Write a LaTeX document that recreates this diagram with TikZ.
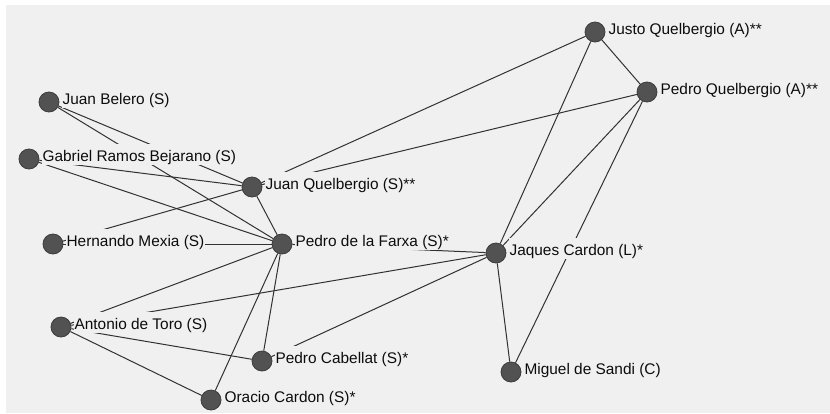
\documentclass[tikz,border=0pt]{standalone}
\usepackage{fontspec}
\setmainfont{Liberation Sans}
\usetikzlibrary{positioning}
\definecolor{canvas}{RGB}{240,240,240}
\definecolor{dotfill}{RGB}{82,82,82}
\definecolor{dotdraw}{RGB}{60,60,60}
\definecolor{linkgray}{RGB}{50,50,50}
\definecolor{ink}{RGB}{12,12,12}
\newcommand{\NameFont}{\fontsize{15.4}{18}\selectfont}
\tikzset{
  actor/.style={circle, minimum size=20pt, inner sep=0pt, fill=dotfill, draw=dotdraw, line width=0.8pt},
  tag/.style={anchor=base west, fill=canvas, inner xsep=1pt, inner ysep=4pt, text height=13pt, text depth=0pt, font=\NameFont, text=ink},
  link/.style={draw=linkgray, line width=1pt}
}

\begin{document}
\begin{tikzpicture}[x=1pt, y=-1pt]
  \useasboundingbox (0,0) rectangle (830,413);
  \fill[canvas] (6,5) rectangle (830,413);
  % people
  \node[actor] (jb) at (49,102) {};
  \node[actor] (grb) at (29,159) {};
  \node[actor] (jq) at (252,187) {};
  \node[actor] (hm) at (53,244) {};
  \node[actor] (pf) at (282,244) {};
  \node[actor] (jc) at (496,253) {};
  \node[actor] (at) at (61,327) {};
  \node[actor] (pc) at (262,361) {};
  \node[actor] (oc) at (211,400) {};
  \node[actor] (ms) at (511,372) {};
  \node[actor] (juq) at (595,32) {};
  \node[actor] (pq) at (647,92) {};
  % ties
  \draw[link] (jb) -- (jq); \draw[link] (jb) -- (pf);
  \draw[link] (grb) -- (jq); \draw[link] (grb) -- (pf);
  \draw[link] (hm) -- (jq); \draw[link] (hm) -- (pf);
  \draw[link] (jq) -- (pf); \draw[link] (jq) -- (juq); \draw[link] (jq) -- (pq);
  \draw[link] (juq) -- (pq); \draw[link] (juq) -- (jc);
  \draw[link] (pq) -- (jc); \draw[link] (pq) -- (ms);
  \draw[link] (jc) -- (ms); \draw[link] (pf) -- (jc);
  \draw[link] (at) -- (jc); \draw[link] (pc) -- (jc);
  \draw[link] (pf) -- (at); \draw[link] (pf) -- (pc); \draw[link] (pf) -- (oc);
  \draw[link] (at) -- (pc); \draw[link] (at) -- (oc);
  % names
  \node[tag] (jb-t) at ([shift={(2,2)}]jb.east) {Juan Belero (S)};
  \node[tag] (grb-t) at ([shift={(2,2)}]grb.east) {Gabriel Ramos Bejarano (S)};
  \node[tag] (jq-t) at ([shift={(2,2)}]jq.east) {Juan Quelbergio (S)**};
  \node[tag] (hm-t) at ([shift={(2,2)}]hm.east) {Hernando Mexia (S)};
  \node[tag] (pf-t) at ([shift={(2,2)}]pf.east) {Pedro de la Farxa (S)*};
  \node[tag] (jc-t) at ([shift={(2,2)}]jc.east) {Jaques Cardon (L)*};
  \node[tag] (at-t) at ([shift={(2,2)}]at.east) {Antonio de Toro (S)};
  \node[tag] (pc-t) at ([shift={(2,2)}]pc.east) {Pedro Cabellat (S)*};
  \node[tag] (oc-t) at ([shift={(2,2)}]oc.east) {Oracio Cardon (S)*};
  \node[tag] (ms-t) at ([shift={(2,2)}]ms.east) {Miguel de Sandi (C)};
  \node[tag] (juq-t) at ([shift={(2,2)}]juq.east) {Justo Quelbergio (A)**};
  \node[tag] (pq-t) at ([shift={(2,2)}]pq.east) {Pedro Quelbergio (A)**};
\end{tikzpicture}
\end{document}
